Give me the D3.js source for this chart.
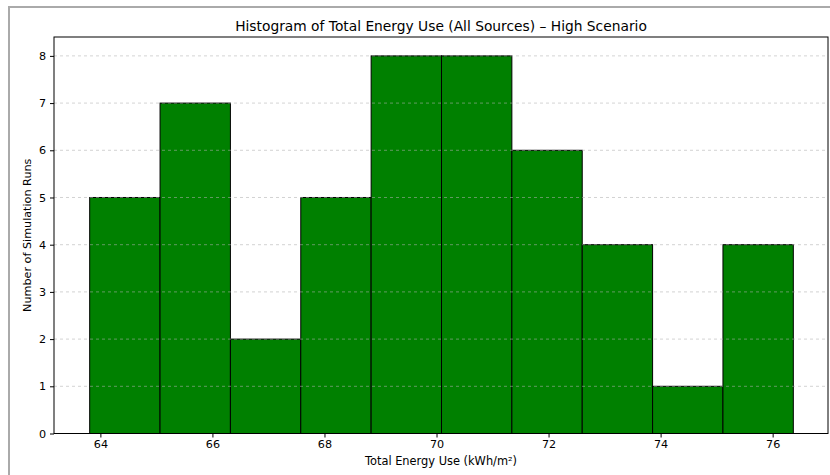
<!DOCTYPE html>
<html><head><meta charset="utf-8">
<script src="https://cdn.jsdelivr.net/npm/d3@7"></script>
<style>body{margin:0;background:#fff;} svg{display:block;font-family:"DejaVu Sans",sans-serif;}</style>
</head><body>
<svg id="c" width="830" height="475"></svg>
<script>
const binEdges = [63.80, 65.056, 66.312, 67.568, 68.824, 70.08, 71.336, 72.592, 73.848, 75.104, 76.36];
const counts = [5, 7, 2, 5, 8, 8, 6, 4, 1, 4];
const xTicks = [64, 66, 68, 70, 72, 74, 76];
const yTicks = [0, 1, 2, 3, 4, 5, 6, 7, 8];
const titleText = "Histogram of Total Energy Use (All Sources) – High Scenario";
const xLabel = "Total Energy Use (kWh/m²)";
const yLabel = "Number of Simulation Runs";

const svg = d3.select("#c");
const L = 54, R = 828, T = 37, B = 433.5;
const lo = binEdges[0], hi = binEdges[binEdges.length-1], m = (hi-lo)*0.05;
const x = d3.scaleLinear().domain([lo-m, hi+m]).range([L, R]);
const ymax = d3.max(counts)*1.05;
const y = d3.scaleLinear().domain([0, ymax]).range([B, T]);

// figure border
svg.append("path").attr("d", `M9,475 V7 H830`).attr("fill","none").attr("stroke","#aaaaaa").attr("stroke-width",2);

// bars
const bins = counts.map((c,i)=>({x0:binEdges[i], x1:binEdges[i+1], c}));
svg.append("g").selectAll("rect").data(bins).join("rect")
  .attr("x", d=>x(d.x0)+0.5).attr("width", d=>x(d.x1)-x(d.x0))
  .attr("y", d=>y(d.c)).attr("height", d=>y(0)-y(d.c))
  .attr("fill","#008000").attr("stroke","#000").attr("stroke-width",1);

// grid (drawn above bars, semi-transparent)
svg.append("g").selectAll("line").data(yTicks).join("line")
  .attr("x1", L).attr("x2", R).attr("y1", d=>y(d)).attr("y2", d=>y(d))
  .attr("stroke","#b0b0b0").attr("stroke-opacity",0.7).attr("stroke-width",0.8).attr("stroke-dasharray","3,3");

// frame
svg.append("rect").attr("x",L).attr("y",T).attr("width",R-L).attr("height",B-T)
  .attr("fill","none").attr("stroke","#000").attr("stroke-width",1);

// axes
const xa = svg.append("g").attr("transform",`translate(0,${B})`)
  .call(d3.axisBottom(x).tickValues(xTicks).tickFormat(d3.format("d")).tickSize(4).tickPadding(3));
const ya = svg.append("g").attr("transform",`translate(${L},0)`)
  .call(d3.axisLeft(y).tickValues(yTicks).tickFormat(d3.format("d")).tickSize(4).tickPadding(4));
[xa, ya].forEach(g=>{
  g.select(".domain").remove();
  g.selectAll("text").attr("font-size","11.2px").attr("fill","#000").attr("font-family","DejaVu Sans");
  g.selectAll("line").attr("stroke","#000");
});

svg.append("text").attr("x",(L+R)/2).attr("y",30.5).attr("text-anchor","middle")
  .attr("font-size","13.8px").text(titleText);
svg.append("text").attr("x",(L+R)/2).attr("y",465).attr("text-anchor","middle")
  .attr("font-size","11.4px").text(xLabel);
svg.append("text").attr("transform",`translate(31,${(T+B)/2}) rotate(-90)`).attr("text-anchor","middle")
  .attr("font-size","11.2px").text(yLabel);
</script>
</body></html>
